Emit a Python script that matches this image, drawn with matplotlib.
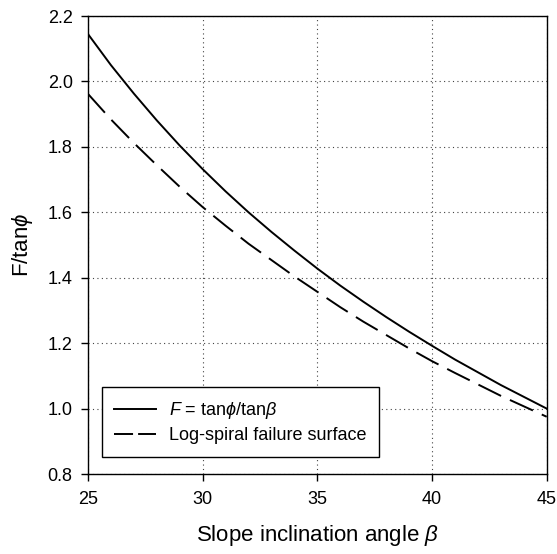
import matplotlib
matplotlib.use("Agg")
import matplotlib.pyplot as plt
from matplotlib.lines import Line2D

plt.rcParams['font.family'] = ['Liberation Sans', 'DejaVu Sans']
plt.rcParams['mathtext.fontset'] = 'custom'
plt.rcParams['mathtext.rm'] = 'Liberation Sans'
plt.rcParams['mathtext.it'] = 'Liberation Sans:italic'
plt.rcParams['mathtext.fallback'] = 'cm'

beta = [25, 26, 27, 28, 29, 30, 31, 32, 33, 34, 35, 36, 37, 38, 39, 40, 41, 42, 43, 44, 45]
planar = [2.145, 2.050, 1.963, 1.881, 1.804, 1.732, 1.664, 1.600, 1.540, 1.483, 1.428,
          1.376, 1.327, 1.280, 1.235, 1.192, 1.150, 1.111, 1.072, 1.036, 1.000]
logspiral = [1.962, 1.884, 1.812, 1.744, 1.678, 1.616, 1.559, 1.504, 1.454, 1.404, 1.357,
             1.310, 1.266, 1.225, 1.184, 1.145, 1.109, 1.074, 1.039, 1.007, 0.975]

labels = [r'$F$ = tan$\phi$/tan$\beta$', 'Log-spiral failure surface']
xticks = [25, 30, 35, 40, 45]
yticks = [0.8, 1.0, 1.2, 1.4, 1.6, 1.8, 2.0, 2.2]

fig = plt.figure(figsize=(5.57, 5.54), dpi=100)
ax = fig.add_axes([0.158, 0.1444, 0.8235, 0.8266])

ax.plot(beta, planar, color='black', lw=1.4)
ax.plot(beta, logspiral, color='black', lw=1.4, dashes=(13, 5))

ax.set_xlim(25, 45)
ax.set_ylim(0.8, 2.2)
ax.set_xticks(xticks)
ax.set_yticks(yticks)
ax.set_yticklabels([f'{v:.1f}' for v in yticks])
ax.tick_params(axis='both', direction='out', length=5, width=1, labelsize=13,
               top=False, right=False)
ax.tick_params(axis='x', pad=7)
ax.tick_params(axis='y', pad=6)

ax.grid(True, linestyle=(0, (1, 3)), color='#444444', lw=0.8)
for s in ax.spines.values():
    s.set_linewidth(1.0)
    s.set_color('black')

ax.set_xlabel(r'Slope inclination angle $\beta$', fontsize=16, labelpad=11)
ax.set_ylabel(r'F/tan$\phi$', fontsize=16, labelpad=9)

handles = [Line2D([], [], color='black', lw=1.4),
           Line2D([], [], color='black', lw=1.4, dashes=(9.8, 2.6))]
leg = ax.legend(handles, labels, loc='lower left', bbox_to_anchor=(0.030, 0.037),
                fontsize=13, frameon=True, fancybox=False, edgecolor='black',
                framealpha=1, handlelength=2.3, handletextpad=0.7, borderpad=0.7,
                labelspacing=0.35, borderaxespad=0)
leg.get_frame().set_linewidth(1.0)

fig.savefig('out.png', dpi=100)
